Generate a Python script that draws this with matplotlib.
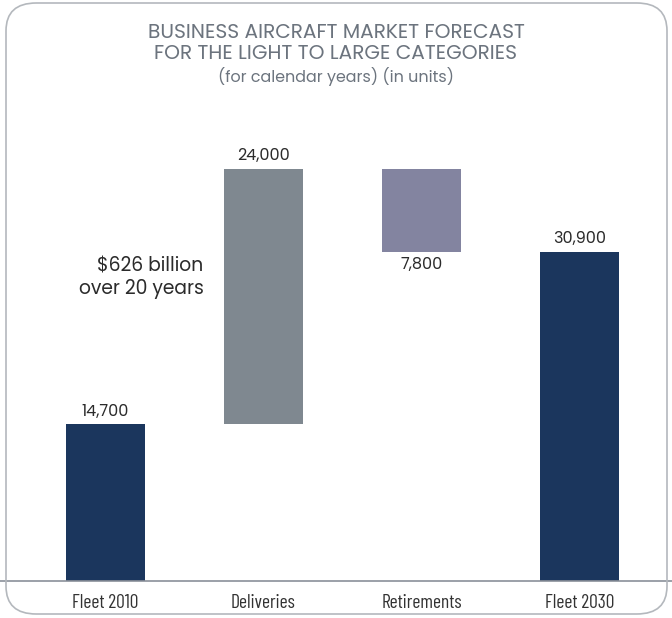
import matplotlib
matplotlib.use("Agg")
from matplotlib import pyplot as plt
from matplotlib.patches import FancyBboxPatch

# data
categories = ["Fleet 2010", "Deliveries", "Retirements", "Fleet 2030"]
changes = [14700, 24000, -7800, 30900]
labels = ["14,700", "24,000", "7,800", "30,900"]
bar_colors = ["#1b365d", "#7f8890", "#8384a0", "#1b365d"]

main_font = ["Poppins", "Lato"]

W, H = 672, 618
fig = plt.figure(figsize=(W / 100, H / 100), dpi=100)

# rounded frame around everything
frame = FancyBboxPatch((6 / W, 4 / H), 661 / W, 611 / H,
                       boxstyle="round,pad=0,rounding_size=0.045",
                       transform=fig.transFigure, fill=False,
                       edgecolor="#b4b8bd", lw=1.2)
fig.patches.append(frame)

# axes: baseline at 581 px from top
ax = fig.add_axes([0, 37 / H, 1, 581 / H])
px_per_unit = 0.01065
ax.set_ylim(0, 581 / px_per_unit)
ax.set_xlim(-105.5 / 158, (W - 105.5) / 158)

# waterfall bottoms / tops
bottoms = []
heights = []
running = 0
for i, c in enumerate(changes):
    if i == 0 or i == len(changes) - 1:
        bottoms.append(0)
        heights.append(c)
        running = c
    elif c >= 0:
        bottoms.append(running)
        heights.append(c)
        running += c
    else:
        bottoms.append(running + c)
        heights.append(-c)
        running += c

xs = range(len(categories))
ax.bar(xs, heights, bottom=bottoms, width=0.5, color=bar_colors)

for i, (b, h, lab) in enumerate(zip(bottoms, heights, labels)):
    if changes[i] < 0:
        ax.text(i, b - 450, lab, ha="center", va="top", fontsize=11.5,
                color="#2b2b2b", family=main_font)
    else:
        ax.text(i, b + h + 450, lab, ha="center", va="bottom", fontsize=11.5,
                color="#2b2b2b", family=main_font)

ax.text(0.62, 28500, "$626 billion\nover 20 years", ha="right", va="center",
        fontsize=13.5, color="#2b2b2b", family=main_font, linespacing=1.15)

for s in ["top", "right", "left"]:
    ax.spines[s].set_visible(False)
ax.spines["bottom"].set_color("#8a9099")
ax.spines["bottom"].set_linewidth(1.2)
ax.set_yticks([])
ax.set_xticks(list(xs))
ax.set_xticklabels(categories, fontsize=14, color="#333333",
                   family="Barlow Condensed")
ax.tick_params(axis="x", length=0, pad=9)
ax.patch.set_visible(False)

fig.text(0.5, 1 - 33 / H, "BUSINESS AIRCRAFT MARKET FORECAST", ha="center", va="center",
         fontsize=14.5, color="#6c747e", family=main_font)
fig.text(0.5, 1 - 54 / H, "FOR THE LIGHT TO LARGE CATEGORIES", ha="center", va="center",
         fontsize=14.5, color="#6c747e", family=main_font)
fig.text(0.5, 1 - 76 / H, "(for calendar years) (in units)", ha="center", va="center",
         fontsize=11.5, color="#6c747e", family=main_font)

fig.savefig("out.png", dpi=100)
